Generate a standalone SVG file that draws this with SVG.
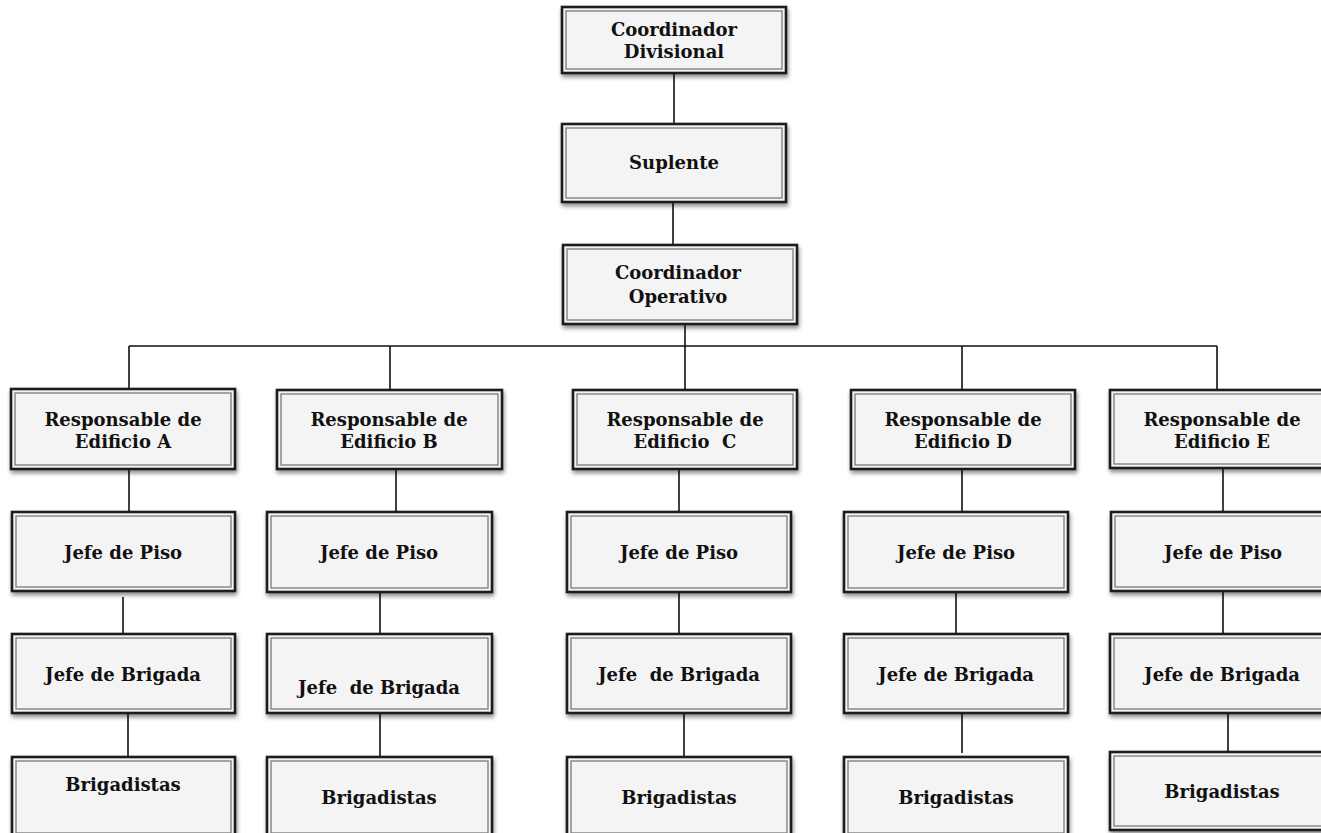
<svg xmlns="http://www.w3.org/2000/svg" width="1321" height="833" viewBox="0 0 1321 833">
<defs>
<filter id="sh" x="-10%" y="-10%" width="125%" height="140%">
<feDropShadow dx="1" dy="3" stdDeviation="2" flood-color="#000" flood-opacity="0.45"/>
</filter>
<style>
.o{fill:#f4f4f4;stroke:#1c1c1c;stroke-width:2.6;filter:url(#sh)}
.i{fill:none;stroke:#7a7a7a;stroke-width:1.3}
.t{font-family:"DejaVu Serif","Liberation Serif",serif;font-weight:bold;font-size:18px;fill:#111;text-anchor:middle}
.c{stroke:#111;stroke-width:1.6;fill:none}
</style>
</defs>
<rect width="1321" height="833" fill="#fff"/>
<g id="connectors" class="c">
<path d="M674 73V124M673 202V245M685 324V390M129 346H1217M129 346V389M390 346V390M962 346V390M1217 346V390"/>
<path d="M129 469V512M123 597V634M128 713V757"/>
<path d="M396 469V512M380 592V634M380 713V757"/>
<path d="M679 469V512M679 592V634M684 713V757"/>
<path d="M962 469V512M956 592V634M962 713V753"/>
<path d="M1223 469V512M1223 591V634M1228 713V752"/>
</g>
<g id="n-div"><rect class="o" x="562" y="7" width="224" height="66"/><rect class="i" x="566" y="11" width="216" height="58"/><text class="t" x="674" y="36">Coordinador</text><text class="t" x="674" y="58">Divisional</text></g>
<g id="n-sup"><rect class="o" x="562" y="124" width="224" height="78"/><rect class="i" x="566" y="128" width="216" height="70"/><text class="t" x="674" y="169">Suplente</text></g>
<g id="n-co"><rect class="o" x="563" y="245" width="234" height="79"/><rect class="i" x="567" y="249" width="226" height="71"/><text class="t" x="678" y="279">Coordinador</text><text class="t" x="678" y="303">Operativo</text></g>

<g id="n-rA"><rect class="o" x="11" y="389" width="224" height="80"/><rect class="i" x="15" y="393" width="216" height="72"/><text class="t" x="123" y="426">Responsable de</text><text class="t" x="123" y="448">Edificio A</text></g>
<g id="n-rB"><rect class="o" x="277" y="390" width="225" height="79"/><rect class="i" x="281" y="394" width="217" height="71"/><text class="t" x="389" y="426">Responsable de</text><text class="t" x="389" y="448">Edificio B</text></g>
<g id="n-rC"><rect class="o" x="573" y="390" width="224" height="79"/><rect class="i" x="577" y="394" width="216" height="71"/><text class="t" x="685" y="426">Responsable de</text><text class="t" x="685" y="448" xml:space="preserve">Edificio  C</text></g>
<g id="n-rD"><rect class="o" x="851" y="390" width="224" height="79"/><rect class="i" x="855" y="394" width="216" height="71"/><text class="t" x="963" y="426">Responsable de</text><text class="t" x="963" y="448">Edificio D</text></g>
<g id="n-rE"><rect class="o" x="1110" y="390" width="224" height="78"/><rect class="i" x="1114" y="394" width="216" height="70"/><text class="t" x="1222" y="426">Responsable de</text><text class="t" x="1222" y="448">Edificio E</text></g>

<g id="n-jA"><rect class="o" x="12" y="512" width="223" height="79"/><rect class="i" x="16" y="516" width="215" height="71"/><text class="t" x="123" y="559">Jefe de Piso</text></g>
<g id="n-jB"><rect class="o" x="267" y="512" width="225" height="80"/><rect class="i" x="271" y="516" width="217" height="72"/><text class="t" x="379" y="559">Jefe de Piso</text></g>
<g id="n-jC"><rect class="o" x="567" y="512" width="224" height="80"/><rect class="i" x="571" y="516" width="216" height="72"/><text class="t" x="679" y="559">Jefe de Piso</text></g>
<g id="n-jD"><rect class="o" x="844" y="512" width="224" height="80"/><rect class="i" x="848" y="516" width="216" height="72"/><text class="t" x="956" y="559">Jefe de Piso</text></g>
<g id="n-jE"><rect class="o" x="1111" y="512" width="224" height="79"/><rect class="i" x="1115" y="516" width="216" height="71"/><text class="t" x="1223" y="559">Jefe de Piso</text></g>

<g id="n-bA"><rect class="o" x="12" y="634" width="223" height="79"/><rect class="i" x="16" y="638" width="215" height="71"/><text class="t" x="123" y="681">Jefe de Brigada</text></g>
<g id="n-bB"><rect class="o" x="267" y="634" width="225" height="79"/><rect class="i" x="271" y="638" width="217" height="71"/><text class="t" x="379" y="694" xml:space="preserve">Jefe  de Brigada</text></g>
<g id="n-bC"><rect class="o" x="567" y="634" width="224" height="79"/><rect class="i" x="571" y="638" width="216" height="71"/><text class="t" x="679" y="681" xml:space="preserve">Jefe  de Brigada</text></g>
<g id="n-bD"><rect class="o" x="844" y="634" width="224" height="79"/><rect class="i" x="848" y="638" width="216" height="71"/><text class="t" x="956" y="681">Jefe de Brigada</text></g>
<g id="n-bE"><rect class="o" x="1110" y="634" width="224" height="79"/><rect class="i" x="1114" y="638" width="216" height="71"/><text class="t" x="1222" y="681">Jefe de Brigada</text></g>

<g id="n-gA"><rect class="o" x="12" y="757" width="223" height="80"/><rect class="i" x="16" y="761" width="215" height="72"/><text class="t" x="123" y="791">Brigadistas</text></g>
<g id="n-gB"><rect class="o" x="267" y="757" width="225" height="80"/><rect class="i" x="271" y="761" width="217" height="72"/><text class="t" x="379" y="804">Brigadistas</text></g>
<g id="n-gC"><rect class="o" x="567" y="757" width="224" height="80"/><rect class="i" x="571" y="761" width="216" height="72"/><text class="t" x="679" y="804">Brigadistas</text></g>
<g id="n-gD"><rect class="o" x="844" y="757" width="224" height="80"/><rect class="i" x="848" y="761" width="216" height="72"/><text class="t" x="956" y="804">Brigadistas</text></g>
<g id="n-gE"><rect class="o" x="1110" y="752" width="224" height="78"/><rect class="i" x="1114" y="756" width="216" height="70"/><text class="t" x="1222" y="798">Brigadistas</text></g>
</svg>
